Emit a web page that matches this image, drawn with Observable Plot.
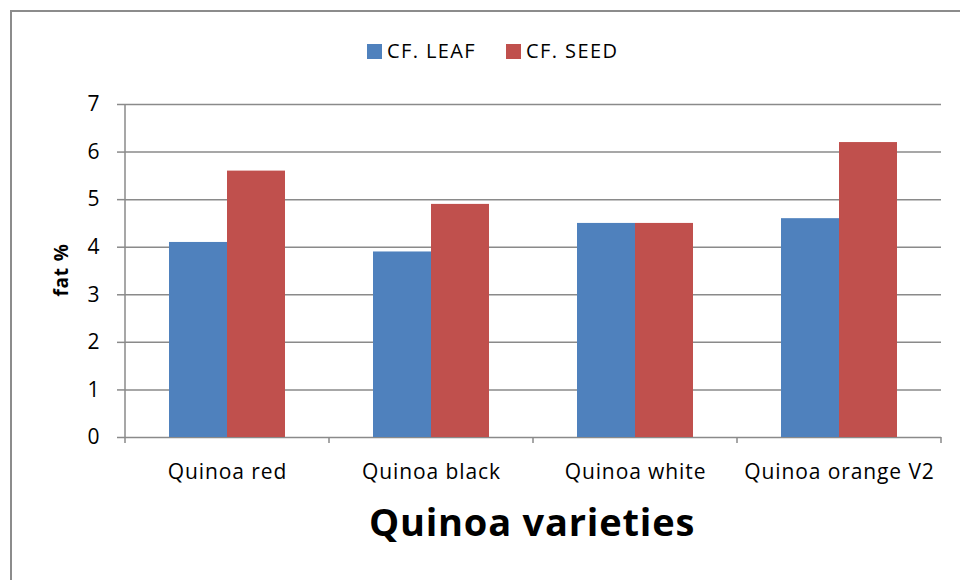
<!DOCTYPE html>
<html><head><meta charset="utf-8">
<script src="https://cdn.jsdelivr.net/npm/d3@7"></script>
<script src="https://cdn.jsdelivr.net/npm/@observablehq/plot@0.6"></script>
<style>
body{margin:0;background:#fff;font-family:"Open Sans",sans-serif;color:#000;}
#wrap{position:relative;width:960px;height:580px;overflow:hidden;background:#fff;}
#border{position:absolute;left:10px;top:10px;width:980px;height:600px;border-left:2px solid #8c8c8c;border-top:2px solid #8c8c8c;}
#chart{position:absolute;left:0;top:0;}
#chart g[aria-label="fx-axis tick label"] text{letter-spacing:0.9px;}
#legend{position:absolute;top:37px;left:367px;font-size:20px;letter-spacing:1.4px;white-space:nowrap;line-height:28px;}
#legend span.sw{display:inline-block;width:15px;height:15px;vertical-align:-1px;margin-right:5px;}
#legend span.item{margin-right:30px;}
#xtitle{position:absolute;left:0;width:1064px;text-align:center;top:496px;font-size:38px;font-weight:bold;letter-spacing:0.8px;line-height:50px;}
#ytitle{position:absolute;left:61px;top:270px;transform:translate(-50%,-50%) rotate(-90deg);font-size:19px;font-weight:bold;letter-spacing:0.8px;white-space:nowrap;}
</style></head>
<body>
<div id="wrap">
  <div id="border"></div>
  <div id="chart"></div>
  <div id="legend"></div>
  <div id="ytitle">fat %</div>
  <div id="xtitle">Quinoa varieties</div>
</div>
<script>
const categories = ["Quinoa red", "Quinoa black", "Quinoa white", "Quinoa orange V2"];
const series = ["CF. LEAF", "CF. SEED"];
const leaf = [4.1, 3.9, 4.5, 4.6];
const seed = [5.6, 4.9, 4.5, 6.2];
const yTicks = [0, 1, 2, 3, 4, 5, 6, 7];
const colors = ["#4F81BD", "#C0504D"];

const data = categories.flatMap((c, i) => [
  {category: c, series: series[0], value: leaf[i]},
  {category: c, series: series[1], value: seed[i]}
]);

const gray = "#8a8a8a";

const chart = Plot.plot({
  width: 960,
  height: 580,
  marginLeft: 123,
  marginRight: 18,
  marginTop: 104,
  marginBottom: 143,
  style: {fontFamily: "'Open Sans', sans-serif", fontSize: "20px", color: "#000", background: "transparent"},
  fx: {domain: categories, padding: 0, label: null, axis: null},
  x: {domain: series, paddingOuter: 0.75, paddingInner: 0, axis: null},
  y: {domain: [0, 7], label: null, axis: null},
  color: {domain: series, range: colors},
  marks: [
    Plot.gridY(yTicks, {stroke: gray, strokeOpacity: 1, strokeWidth: 1.5}),
    Plot.barY(data, {fx: "category", x: "series", y: "value", fill: "series", inset: 0}),
    Plot.axisY(yTicks, {tickSize: 8, stroke: gray, strokeWidth: 1.5, tickPadding: 18, fontSize: 21, label: null}),
    Plot.axisFx({anchor: "bottom", tickSize: 0, tickPadding: 27, fontSize: 21, label: null})
  ]
});
document.getElementById("chart").append(chart);

// y axis line and category boundary ticks, placed with the chart's own scales
(function () {
  const yd = chart.scale("y");
  const fd = chart.scale("fx");
  const y = yd.apply ? (v) => yd.apply(v) : d3.scaleLinear(yd.domain, yd.range);
  const fxBand = d3.scaleBand(fd.domain, fd.range).paddingInner(fd.paddingInner || 0).paddingOuter(fd.paddingOuter || 0);
  const fx = fd.apply ? (v) => fd.apply(v) : fxBand;
  const bw = fd.bandwidth != null ? fd.bandwidth : fxBand.bandwidth();
  const svg = d3.select(chart);
  const g = svg.append("g").attr("stroke", gray).attr("stroke-width", 1.5).attr("fill", "none");
  const left = fx(categories[0]);
  g.append("line").attr("x1", left).attr("x2", left)
    .attr("y1", y(yTicks[yTicks.length - 1])).attr("y2", y(0) + 6);
  for (const c of categories) {
    const xr = fx(c) + bw;
    g.append("line").attr("x1", xr).attr("x2", xr).attr("y1", y(0)).attr("y2", y(0) + 6);
  }
})();

const legend = document.getElementById("legend");
series.forEach((s, i) => {
  const item = document.createElement("span");
  item.className = "item";
  const sw = document.createElement("span");
  sw.className = "sw";
  sw.style.background = colors[i];
  item.append(sw, document.createTextNode(s));
  legend.append(item);
});
</script>
</body></html>
